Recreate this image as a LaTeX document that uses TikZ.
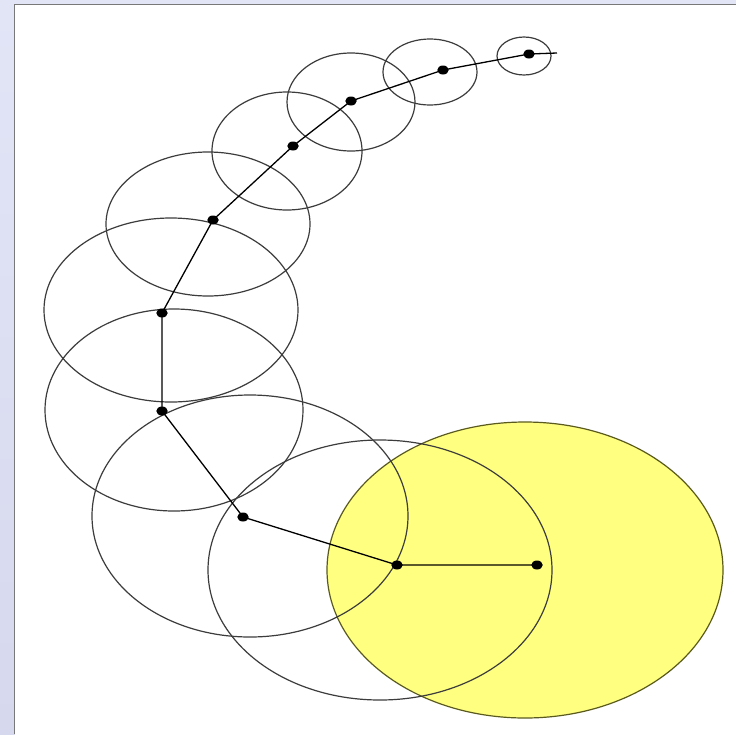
\documentclass[tikz,border=0pt]{standalone}
\usetikzlibrary{shapes.geometric}
\definecolor{lav}{RGB}{226,229,246}
\definecolor{lavdark}{RGB}{214,217,238}
\definecolor{framegray}{RGB}{120,120,120}
\definecolor{ringgray}{RGB}{60,60,60}
\definecolor{yfill}{RGB}{255,255,128}
\definecolor{yedge}{RGB}{90,90,30}
\tikzset{
  ring/.style={draw=ringgray, line width=1.2pt},
  chain/.style={draw=black, line width=1.3pt},
  dot/.style={shape=ellipse, fill=black, inner sep=0pt, minimum width=11.5pt, minimum height=9pt}
}
\begin{document}
\begin{tikzpicture}[x=1pt,y=-1pt]
\useasboundingbox (0,0) rectangle (736,734);
% background frame
\shade[top color=lav, bottom color=lavdark] (0,0) rectangle (736,734);
\fill[white] (14.5,4.5) rectangle (737,735);
\draw[framegray, line width=1pt] (14.5,734) -- (14.5,4.5) -- (736,4.5);
% yellow disc
\fill[yfill] (525,570) ellipse [x radius=198, y radius=148];
\draw[yedge, line width=1.2pt] (525,570) ellipse [x radius=198, y radius=148];
% rings
\draw[ring] (380,570) ellipse [x radius=172, y radius=130];
\draw[ring] (250,516) ellipse [x radius=158, y radius=121];
\draw[ring] (174,410) ellipse [x radius=129, y radius=101];
\draw[ring] (171,310) ellipse [x radius=127, y radius=92];
\draw[ring] (208,224) ellipse [x radius=102, y radius=72];
\draw[ring] (287,151) ellipse [x radius=75, y radius=59];
\draw[ring] (351,102) ellipse [x radius=64, y radius=49];
\draw[ring] (430,72) ellipse [x radius=47, y radius=33];
\draw[ring] (524,56) ellipse [x radius=27, y radius=19];
% dots
\node[dot] (p1) at (529,54) {};
\node[dot] (p2) at (443,70) {};
\node[dot] (p3) at (351,101) {};
\node[dot] (p4) at (293,146) {};
\node[dot] (p5) at (213,220) {};
\node[dot] (p6) at (162,313) {};
\node[dot] (p7) at (162,411) {};
\node[dot] (p8) at (243,517) {};
\node[dot] (p9) at (397,565) {};
\node[dot] (p10) at (537,565) {};
\coordinate (tail) at (557,53);
% chain
\draw[chain] (tail) -- (p1.center) -- (p2.center) -- (p3.center) -- (p4.center) -- (p5.center) -- (p6.center) -- (p7.center) -- (p8.center) -- (p9.center) -- (p10.center);
\end{tikzpicture}
\end{document}
